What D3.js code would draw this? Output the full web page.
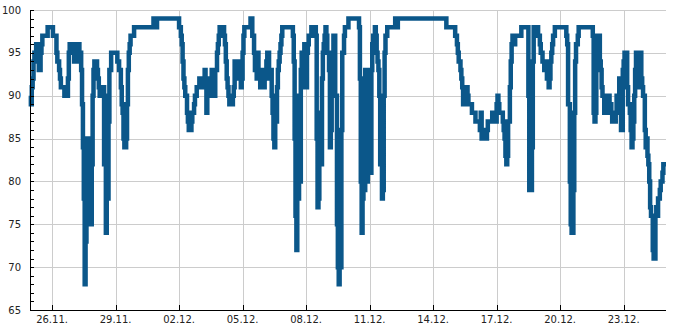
<!DOCTYPE html>
<html lang="de">
<head>
<meta charset="UTF-8">
<title>Luftfeuchte</title>
<script src="https://d3js.org/d3.v7.min.js"></script>
<style>
  html, body { margin: 0; padding: 0; background: #fff; }
  text { font-family: "DejaVu Sans", sans-serif; font-size: 10px; fill: #222; }
  .grid line { stroke: #cccccc; stroke-width: 1; shape-rendering: crispEdges; }
  .axis line, .axis path { stroke: #000; stroke-width: 1; shape-rendering: crispEdges; }
</style>
</head>
<body>
<svg width="685" height="330"></svg>
<script>
// readings: [hours since 25.11. 00:00, relative humidity in %]
var seg1 = [[-1,90],[0,89],[1,91],[2,92],[3,94],[4,95],[6,96],[7,96],[8,95],[9,93],[10,93],[11,95],[12,96],[13,97],
  [15,97],[19,98],[21,98],[24,98],[25,97],[27,97],[29,95],[30,94],[32,93],[33,92],[34,91],[35,91],[37,91],[38,90],
  [40,91],[41,90],[42,92],[43,95],[44,96],[45,96],[46,95],[47,96],[49,94],[50,95],[51,94],[52,94],[53,95],[54,96],
  [55,95],[57,93],[58,89],[59,84],[60,78],[61,68],[62,73],[63,85],[64,76],[65,85],[66,75],[67,85],[68,75],[69,82],
  [70,90],[71,93],[72,94],[74,94],[75,93],[76,92],[77,91],[78,90],[79,91],[81,91],[83,82],[84,90],[85,74],[86,80],
  [87,78],[88,87],[89,93],[91,95],[92,95],[97,95],[98,94],[100,93],[102,91],[103,89]];
var seg2 = [[104,88],[105,85],[106,84],[108,85],[109,89],[110,93],[111,95],[112,96],[113,97],[114,97],[117,98],
  [138,98],[139,99],[142,98],[143,99],[146,99],[166,99],[168,98],[170,97],[171,96],[172,94],[173,92],[174,91],
  [175,90],[177,88],[178,87],[179,86],[181,86],[182,87],[183,88],[185,89],[186,90],[188,91],[189,91],[191,92],
  [192,91],[194,92],[197,93],[198,91],[199,88],[200,92],[202,91],[203,92]];
var seg3 = [[204,90],[205,93],[206,90],[207,93],[208,90],[209,93],[211,95],[212,96],[213,97],[214,98],[217,98],
  [219,97],[220,96],[221,94],[222,92],[223,91],[224,90],[225,89],[228,89],[229,90],[230,91],[231,94],[232,93],
  [233,94],[234,92],[236,94],[237,92],[238,91],[239,92],[240,95],[241,97],[242,98],[248,98],[249,99],[250,99],
  [251,97],[253,95],[254,93],[255,94],[256,92],[257,95],[258,92],[259,93],[260,91],[262,92],[263,93],[264,91],
  [265,93],[266,92],[267,94],[268,95],[270,92],[271,93],[273,90],[274,88],[275,85],[276,84],[277,87],[279,91],
  [280,93],[281,94],[282,95],[283,96],[284,97],[285,98],[296,98],[297,97],[298,94],[299,85],[300,76],[301,72],
  [302,78],[304,90],[305,80],[306,93],[307,95]];
var seg4 = [[308,94],[309,92],[310,96],[311,91],[313,95],[314,96],[315,97],[318,98],[322,98],[323,97],[324,85],
  [325,77],[326,78],[327,88],[328,82],[330,92],[331,95],[332,96],[333,97],[334,98],[335,97],[336,95],[338,93],
  [339,84],[340,86],[341,90],[342,95],[343,97],[344,97],[345,90],[347,75],[348,70],[349,68],[350,80],[351,70],
  [352,86],[353,95],[355,97],[356,98],[358,98],[360,99],[370,99],[372,98],[373,92],[374,80],[375,74],[376,78],
  [377,90],[378,79],[379,93],[381,80],[382,86],[383,81],[384,85],[385,81],[386,93],[387,96],[388,97],[390,98],
  [391,97],[392,95],[393,94],[394,93],[395,90],[396,82],[398,78],[399,79],[400,90],[401,95],[402,97],[404,98]];
var seg5 = [[412,98],[413,99],[415,98],[416,99],[470,99],[471,98],[480,98],[481,97],[483,96],[484,95],[485,94],
  [487,93],[488,92],[489,91],[490,89],[492,89],[493,90],[494,91],[495,90],[496,89],[500,88],[504,87],[509,86],
  [510,88],[511,85]];
var seg6 = [[512,86],[513,85],[514,86],[515,85],[517,86],[518,87],[523,88],[526,87],[528,89],[529,90],[530,89],
  [531,88],[535,87],[536,86],[537,85],[538,83],[539,82],[540,83],[541,87],[543,91],[544,94],[545,96],[546,97],
  [548,96],[549,97],[556,98],[562,98],[564,90],[565,79],[566,79],[568,84],[569,94],[570,98],[571,97],[572,98],
  [574,98],[575,97],[577,96],[578,95],[580,94],[582,93],[583,94],[585,92],[587,91],[588,92],[589,94],[590,95],
  [591,96],[592,97],[594,98],[605,98],[607,97],[608,96],[609,89],[611,80],[612,75],[613,74],[615,79],[616,88],
  [617,94],[618,96],[620,97],[621,98]];
var seg7 = [[635,98],[637,97],[638,88],[639,87],[640,88],[641,96],[642,97],[645,94],[646,93],[647,91],[648,90],
  [650,88],[652,89],[654,88],[655,90],[656,88],[657,89],[658,88],[659,87],[660,88],[662,87],[663,88],[664,90],
  [665,89],[666,90],[667,92],[668,88],[669,86],[671,93],[672,94],[673,95],[674,94],[675,95],[676,91],[677,89],
  [679,88],[680,86],[681,84],[682,85],[683,87],[684,90],[685,93],[686,95],[688,92],[689,95],[690,91],[691,95],
  [692,92],[693,91],[694,90],[696,86],[697,84],[698,85],[699,83],[700,82],[701,80],[702,77],[703,76],[705,72],
  [706,71],[707,71],[708,76],[709,77],[710,76],[711,78],[713,79],[714,80],[716,81],[717,82],[720,82]];

var tickLabels = ["26.11.", "29.11.", "02.12.", "05.12.", "08.12.", "11.12.", "14.12.", "17.12.", "20.12.", "23.12."];
var yMajor = [65, 70, 75, 80, 85, 90, 95, 100];
var yMinor = d3.range(65, 101, 1);

var svg = d3.select("svg"),
    plotLeft = 30, plotRight = 666, plotTop = 10, plotBottom = 310;

var start = new Date(2023, 10, 25);
var readings = [].concat(seg1, seg2, seg3, seg4, seg5, seg6, seg7).map(function(d) {
  return { t: d3.timeHour.offset(start, d[0]), v: d[1] };
});

var parseDay = d3.timeParse("%d.%m.%Y");
var tickDates = tickLabels.map(function(s) { return parseDay(s + "2023"); });

var x = d3.scaleTime()
    .domain(d3.extent(readings, function(d) { return d.t; }))
    .range([plotLeft, plotRight]);
var y = d3.scaleLinear().domain([65, 100]).range([plotBottom, plotTop]);

// grid
var grid = svg.append("g").attr("class", "grid");
grid.selectAll("line.h").data(yMajor).enter().append("line")
    .attr("class", "h")
    .attr("x1", plotLeft).attr("x2", plotRight)
    .attr("y1", function(d) { return Math.round(y(d)) + 0.5; })
    .attr("y2", function(d) { return Math.round(y(d)) + 0.5; });
grid.selectAll("line.v").data(tickDates).enter().append("line")
    .attr("class", "v")
    .attr("y1", plotTop).attr("y2", plotBottom)
    .attr("x1", function(d) { return Math.round(x(d)) + 0.5; })
    .attr("x2", function(d) { return Math.round(x(d)) + 0.5; });

// the series
var line = d3.line()
    .x(function(d) { return x(d.t); })
    .y(function(d) { return y(d.v); })
    .curve(d3.curveStepAfter);

svg.append("path")
    .datum(readings)
    .attr("fill", "none")
    .attr("stroke", "#0b578a")
    .attr("stroke-width", 4.5)
    .attr("stroke-linejoin", "miter")
    .attr("d", line);

// y axis: minor ticks every 1, labels every 5, ticks point inwards
var yAxis = svg.append("g").attr("class", "axis");
yAxis.append("line")
    .attr("x1", plotLeft + 0.5).attr("x2", plotLeft + 0.5)
    .attr("y1", plotTop).attr("y2", plotBottom + 1);
yAxis.selectAll("line.tk").data(yMinor).enter().append("line")
    .attr("class", "tk")
    .attr("x1", plotLeft).attr("x2", plotLeft + 4)
    .attr("y1", function(d) { return Math.round(y(d)) + 0.5; })
    .attr("y2", function(d) { return Math.round(y(d)) + 0.5; });
yAxis.selectAll("text").data(yMajor).enter().append("text")
    .attr("x", plotLeft - 9)
    .attr("y", function(d) { return y(d); })
    .attr("dy", "0.35em")
    .attr("text-anchor", "end")
    .text(function(d) { return d; });

// x axis
var xAxis = svg.append("g").attr("class", "axis");
xAxis.append("line")
    .attr("x1", plotLeft).attr("x2", plotRight)
    .attr("y1", plotBottom + 0.5).attr("y2", plotBottom + 0.5);
xAxis.selectAll("line.tk").data(tickDates).enter().append("line")
    .attr("class", "tk")
    .attr("x1", function(d) { return Math.round(x(d)) + 0.5; })
    .attr("x2", function(d) { return Math.round(x(d)) + 0.5; })
    .attr("y1", plotBottom - 5).attr("y2", plotBottom);
xAxis.selectAll("text").data(tickDates).enter().append("text")
    .attr("x", function(d) { return x(d); })
    .attr("y", plotBottom + 13)
    .attr("text-anchor", "middle")
    .text(function(d, i) { return tickLabels[i]; });
</script>
</body>
</html>
